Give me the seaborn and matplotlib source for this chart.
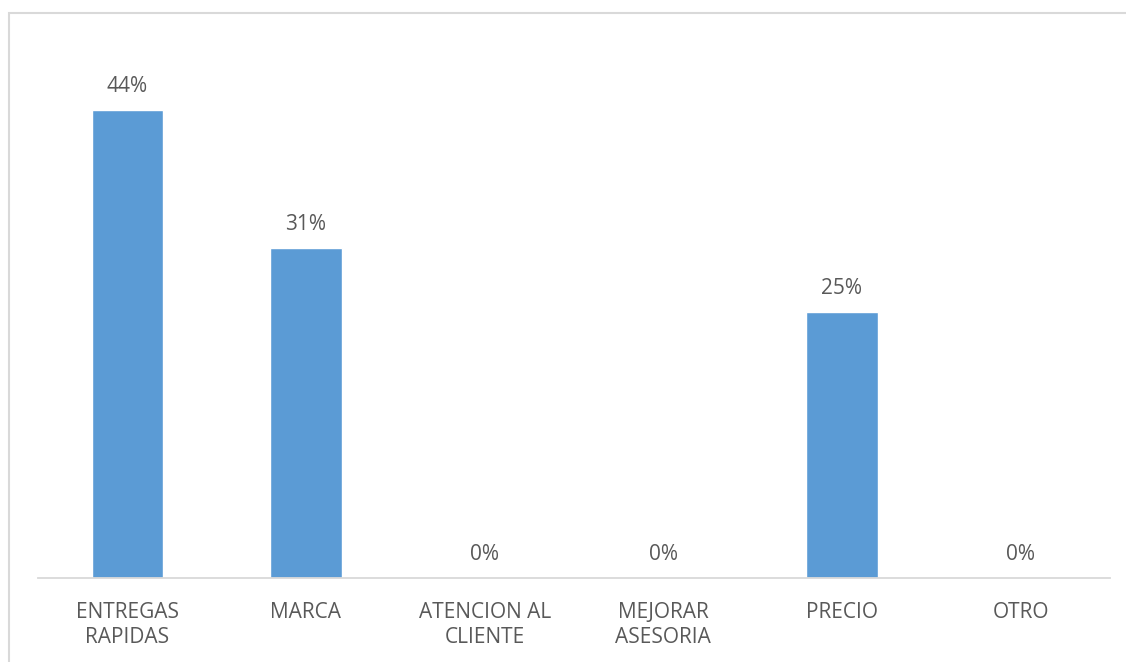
import matplotlib
matplotlib.use("Agg")
import matplotlib.pyplot as plt
from matplotlib.patches import Rectangle
import seaborn as sns
import pandas as pd

categories = ["ENTREGAS\nRAPIDAS", "MARCA", "ATENCION AL\nCLIENTE",
              "MEJORAR\nASESORIA", "PRECIO", "OTRO"]
percent = [44, 31, 0, 0, 25, 0]

bar_color = "#5B9BD5"
text_color = "#595959"
line_color = "#D9D9D9"

sns.set_theme(style="white")
plt.rcParams["font.family"] = ["Open Sans", "DejaVu Sans"]

df = pd.DataFrame({"categoria": categories, "porcentaje": percent})

fig = plt.figure(figsize=(11.26, 6.62), dpi=100)
W, H = 1126, 662
ax = fig.add_axes([38 / W, 1 - 578 / H, (1110 - 38) / W, (578 - 46) / H])

sns.barplot(data=df, x="categoria", y="porcentaje", color=bar_color,
            width=0.4, saturation=1, ax=ax)

ax.set_ylim(0, 50)
ax.set_xlim(-0.5, len(categories) - 0.5)
ax.set_xlabel("")
ax.set_ylabel("")
ax.set_yticks([])
for side in ["left", "right", "top"]:
    ax.spines[side].set_visible(False)
ax.spines["bottom"].set_color(line_color)
ax.spines["bottom"].set_linewidth(1.3)
ax.tick_params(axis="x", length=0, pad=17.5, labelsize=15, labelcolor=text_color)
for lbl in ax.get_xticklabels():
    lbl.set_linespacing(1.25)

for i, v in enumerate(percent):
    ax.annotate(f"{v:.0f}%", xy=(i, v), xytext=(0, 9.5), textcoords="offset points",
                ha="center", va="bottom", fontsize=15, color=text_color)

# chart-area frame
fig.patches.append(Rectangle((8.5 / W, -0.1), 1.2, 1.1 - 13.5 / H,
                             transform=fig.transFigure, fill=False,
                             edgecolor=line_color, linewidth=1.5))

fig.savefig("out.png", dpi=100, facecolor="white")
